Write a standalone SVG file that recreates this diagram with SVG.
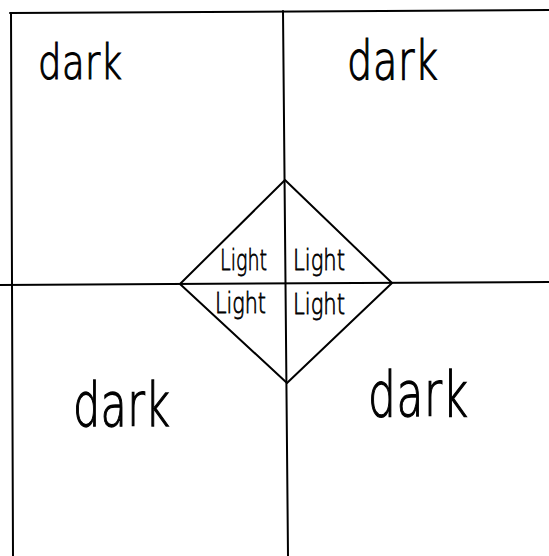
<svg xmlns="http://www.w3.org/2000/svg" width="549" height="556" viewBox="0 0 549 556">
<style>
.ln{stroke:#000;stroke-width:2;fill:none;stroke-linecap:round;stroke-linejoin:round}
.dk{font-family:"DejaVu Sans","Liberation Sans",sans-serif;font-weight:200;fill:#000;stroke:#000;stroke-width:0.9}
.lt{font-family:"DejaVu Sans","Liberation Sans",sans-serif;font-weight:200;font-size:22px;fill:#000;stroke:#000;stroke-width:0.6}
</style>
<rect width="549" height="556" fill="#fff"/>
<g id="connectors">
<path class="ln" d="M10 13 L549 10"/>
<path class="ln" d="M11 13 L13 556"/>
<path class="ln" d="M283 11 L288 556"/>
<path class="ln" d="M0 285 L549 282"/>
<path class="ln" d="M285 180 L392 283 L287 383 L180 284 Z"/>
</g>
<g id="dark-tl"><text class="dk" transform="translate(38,79) scale(1,1.3)" font-size="37" textLength="84" lengthAdjust="spacing">dark</text></g>
<g id="dark-tr"><text class="dk" transform="translate(347,79) scale(1,1.35)" font-size="40" textLength="91" lengthAdjust="spacing">dark</text></g>
<g id="dark-bl"><text class="dk" transform="translate(73,426) scale(1,1.4)" font-size="43" textLength="97" lengthAdjust="spacing">dark</text></g>
<g id="dark-br"><text class="dk" transform="translate(368,416) scale(1,1.4)" font-size="44" textLength="100" lengthAdjust="spacing">dark</text></g>
<g id="light-tl"><text class="lt" transform="translate(220,270) scale(1,1.25)" textLength="47" lengthAdjust="spacingAndGlyphs">Light</text></g>
<g id="light-tr"><text class="lt" transform="translate(293,270) scale(1,1.25)" textLength="52" lengthAdjust="spacingAndGlyphs">Light</text></g>
<g id="light-bl"><text class="lt" transform="translate(215,313) scale(1,1.25)" textLength="51" lengthAdjust="spacingAndGlyphs">Light</text></g>
<g id="light-br"><text class="lt" transform="translate(293,314) scale(1,1.25)" textLength="52" lengthAdjust="spacingAndGlyphs">Light</text></g>
</svg>
